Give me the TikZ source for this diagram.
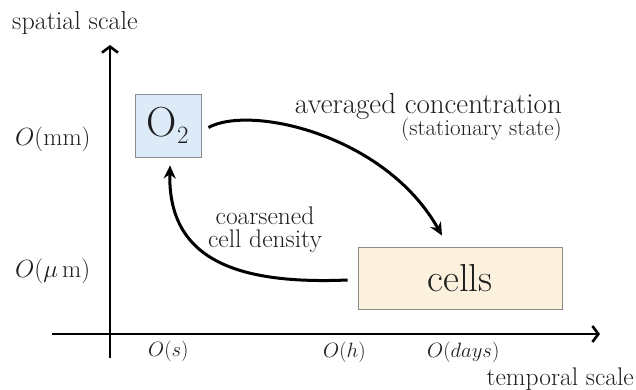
\documentclass[tikz,border=0pt]{standalone}
\usetikzlibrary{arrows.meta}
\definecolor{oxyfill}{HTML}{DDEAF7}
\definecolor{cellfill}{HTML}{FCF1DC}
\definecolor{boxline}{HTML}{8C8C8C}
\definecolor{txt}{HTML}{1E1E1E}
\newcommand{\fs}[1]{\fontsize{#1}{#1}\selectfont}
\begin{document}
\begin{tikzpicture}[x=1pt,y=-1pt,
  axis/.style={line width=2.6pt,-{Straight Barb[length=6pt,width=16pt]}},
  curvearrow/.style={line width=3pt,-{Stealth[length=13pt,width=12pt]}},
  varbox/.style={draw=boxline,line width=0.9pt,inner sep=0pt,text=txt},
  lbl/.style={inner sep=0pt,text=txt}]
\useasboundingbox (0,0) rectangle (636,390);
% axes
\coordinate (ybot) at (110,358);
\coordinate (ytop) at (110,45);
\coordinate (xl) at (52,334);
\coordinate (xr) at (600,334);
\draw[axis] (ybot) -- (ytop);
\draw[axis] (xl) -- (xr);
% boxes
\node[varbox,fill=oxyfill,minimum width=66pt,minimum height=63pt] (O2) at (168,125.5) {\fs{42}O$_2$};
\node[varbox,fill=cellfill,minimum width=204pt,minimum height=62pt] (cells) at (460,278) {\fs{39}cells};
% axis labels
\node[lbl,anchor=base west] (sp) at (12,30) {\fs{26}spatial scale};
\node[lbl,anchor=base west] (mm) at (15,146) {\fs{27}$O(\mathrm{mm})$};
\node[lbl,anchor=base west] (um) at (15,277) {\fs{27}$O(\mu\,\mathrm{m})$};
\node[lbl,anchor=base west] (os) at (148,356) {\fs{20.5}$O(s)$};
\node[lbl,anchor=base west] (oh) at (323,357) {\fs{22}$O(h)$};
\node[lbl,anchor=base west] (od) at (427,357) {\fs{21}$O(days)$};
\node[lbl,anchor=base east] (tm) at (634,385) {\fs{25.5}temporal scale};
% arrow labels
\node[lbl,anchor=base east] (avg) at (562,114) {\fs{29}averaged concentration};
\node[lbl,anchor=base east] (stat) at (562,136) {\fs{23}(stationary state)};
\node[lbl,anchor=north,align=center,font=\fontsize{25.5}{23}\selectfont] (coa) at (265,207) {coarsened\\cell density};
% curved arrows
\draw[curvearrow] ([shift={(7,2)}]O2.east) .. controls +(42,-23) and +(-57,-101) .. ([shift={(-18,-11)}]cells.north);
\draw[curvearrow] ([shift={(-10,2)}]cells.west) .. controls +(-118,5) and +(-2,90) .. ([shift={(2,8)}]O2.south);
\end{tikzpicture}
\end{document}
